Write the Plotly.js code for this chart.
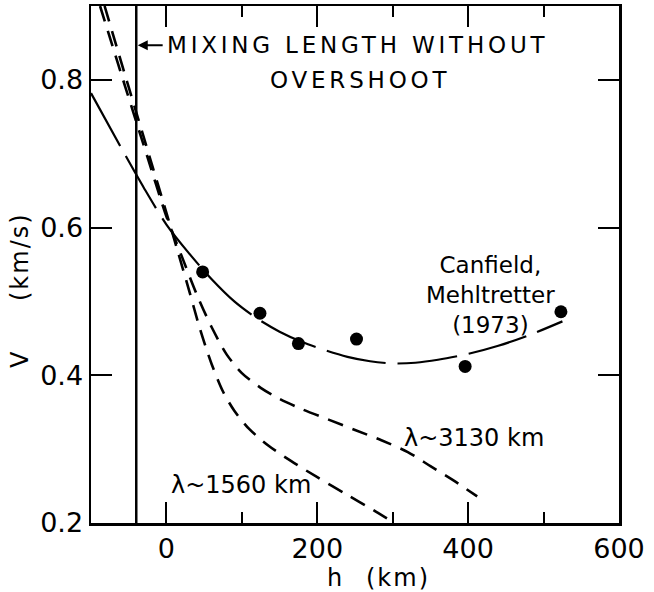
<!DOCTYPE html>
<html>
<head>
<meta charset="utf-8">
<script src="https://cdn.plot.ly/plotly-3.0.1.min.js"></script>
<style>html,body{margin:0;padding:0;background:#fff;}</style>
</head>
<body>
<div id="chart" style="width:654px;height:592px;"></div>
<script>
// Canfield & Mehltretter (1973) observations
const obsH = [48, 124, 175, 252, 396, 523];
const obsV = [0.540, 0.484, 0.443, 0.449, 0.412, 0.486];

// long-dashed fit through observations
const fitH = [-100, -60, -30, 0, 30, 60, 90, 120, 150, 180, 210, 240, 270, 300, 330, 360, 400, 440, 480, 525];
const fitV = [0.782, 0.708, 0.654, 0.604, 0.565, 0.530, 0.500, 0.477, 0.459, 0.445, 0.434, 0.425, 0.419, 0.416, 0.417, 0.421, 0.429, 0.440, 0.454, 0.473];

// lambda ~ 1560 km model
const lam1560H = [-82, -50, -20, 0, 15, 30, 45, 60, 75, 90, 110, 135, 165, 200, 240, 275, 302];
const lam1560V = [0.900, 0.790, 0.688, 0.620, 0.568, 0.515, 0.461, 0.415, 0.378, 0.352, 0.327, 0.305, 0.284, 0.262, 0.238, 0.217, 0.200];

// lambda ~ 3130 km model
const lam3130H = [-88, -55, -25, 0, 20, 40, 60, 80, 100, 125, 150, 180, 215, 250, 285, 320, 350, 380, 412];
const lam3130V = [0.900, 0.792, 0.695, 0.615, 0.562, 0.510, 0.465, 0.428, 0.403, 0.383, 0.368, 0.354, 0.340, 0.326, 0.312, 0.296, 0.277, 0.258, 0.236];

// mixing length without overshoot (vertical line)
const mixH = [-40, -40];
const mixV = [0.2, 0.9];

const xTicks = [0, 200, 400, 600];
const yTicks = [0.2, 0.4, 0.6, 0.8];

const FONT = "DejaVu Sans, Verdana, sans-serif";
const ls = (t, px) => '<span style="letter-spacing:' + px + 'px">' + t + '</span>';

const traces = [
  {x: mixH, y: mixV, mode: 'lines', line: {color: '#000', width: 2.5}, hoverinfo: 'skip'},
  {x: fitH, y: fitV, mode: 'lines', line: {color: '#000', width: 2.2, dash: '60px,12px', shape: 'spline', smoothing: 0.8}},
  {x: lam1560H, y: lam1560V, mode: 'lines', line: {color: '#000', width: 2.6, dash: '16px,10px', shape: 'spline', smoothing: 0.8}},
  {x: lam3130H, y: lam3130V, mode: 'lines', line: {color: '#000', width: 2.6, dash: '16px,10px', shape: 'spline', smoothing: 0.8}},
  {x: obsH, y: obsV, mode: 'markers', marker: {color: '#000', size: 13}}
];

const annFont = {family: FONT, size: 24, color: '#000'};
const layout = {
  width: 654, height: 592,
  margin: {l: 91, r: 35, t: 6, b: 69},
  paper_bgcolor: '#fff', plot_bgcolor: '#fff',
  showlegend: false,
  font: {family: FONT, color: '#000'},
  xaxis: {
    range: [-100, 600], tickvals: xTicks, ticktext: xTicks.map(String),
    showline: true, linecolor: '#000', linewidth: 2.5, mirror: 'allticks',
    ticks: 'inside', ticklen: 21, tickwidth: 2, tickcolor: '#000',
    minor: {tickvals: [-100, 100, 300, 500], ticks: 'inside', ticklen: 11, tickwidth: 2, tickcolor: '#000'},
    showgrid: false, zeroline: false,
    tickfont: {family: FONT, size: 27, color: '#000'}
  },
  yaxis: {
    range: [0.2, 0.9], tickvals: yTicks, ticktext: yTicks.map(v => v.toFixed(1)),
    showline: true, linecolor: '#000', linewidth: 2.5, mirror: 'allticks',
    ticks: 'inside', ticklen: 21, tickwidth: 2, tickcolor: '#000',
    showgrid: false, zeroline: false,
    tickfont: {family: FONT, size: 27, color: '#000'}
  },
  annotations: [
    {x: -38, y: 0.847, ax: -3, ay: 0.847, xref: 'x', yref: 'y', axref: 'x', ayref: 'y',
     text: '', showarrow: true, arrowhead: 2, arrowsize: 1, arrowwidth: 2, arrowcolor: '#000'},
    {x: -1.3, y: 0.847, xref: 'x', yref: 'y', xanchor: 'left', yanchor: 'middle', showarrow: false,
     text: ls('MIXING LENGTH WITHOUT', 3.8), font: {family: FONT, size: 23, color: '#000'}},
    {x: 134, y: 0.800, xref: 'x', yref: 'y', xanchor: 'left', yanchor: 'middle', showarrow: false,
     text: ls('OVERSHOOT', 3.8), font: {family: FONT, size: 23, color: '#000'}},
    {x: 430, y: 0.509, xref: 'x', yref: 'y', xanchor: 'center', yanchor: 'middle', showarrow: false,
     text: 'Canfield,<br>Mehltretter<br>(1973)', font: {family: FONT, size: 23, color: '#000'}},
    {x: 312, y: 0.3152, xref: 'x', yref: 'y', xanchor: 'left', yanchor: 'middle', showarrow: false,
     text: 'λ~3130 km', font: annFont},
    {x: 4, y: 0.2515, xref: 'x', yref: 'y', xanchor: 'left', yanchor: 'middle', showarrow: false,
     text: 'λ~1560 km', font: annFont},
    {x: (334 - 91) / 528, y: (523 - 578) / 517, xref: 'paper', yref: 'paper', xanchor: 'center', yanchor: 'middle',
     showarrow: false, text: 'h', font: annFont},
    {x: (398 - 91) / 528, y: (523 - 578) / 517, xref: 'paper', yref: 'paper', xanchor: 'center', yanchor: 'middle',
     showarrow: false, text: ls('(km)', 2), font: annFont},
    {x: (20 - 91) / 528, y: (523 - 360) / 517, xref: 'paper', yref: 'paper', xanchor: 'center', yanchor: 'middle',
     showarrow: false, textangle: -90, text: 'V', font: annFont},
    {x: (20 - 91) / 528, y: (523 - 257) / 517, xref: 'paper', yref: 'paper', xanchor: 'center', yanchor: 'middle',
     showarrow: false, textangle: -90, text: ls('(km/s)', 2), font: annFont}
  ]
};

Plotly.newPlot('chart', traces, layout, {displayModeBar: false, staticPlot: true});
</script>
</body>
</html>
